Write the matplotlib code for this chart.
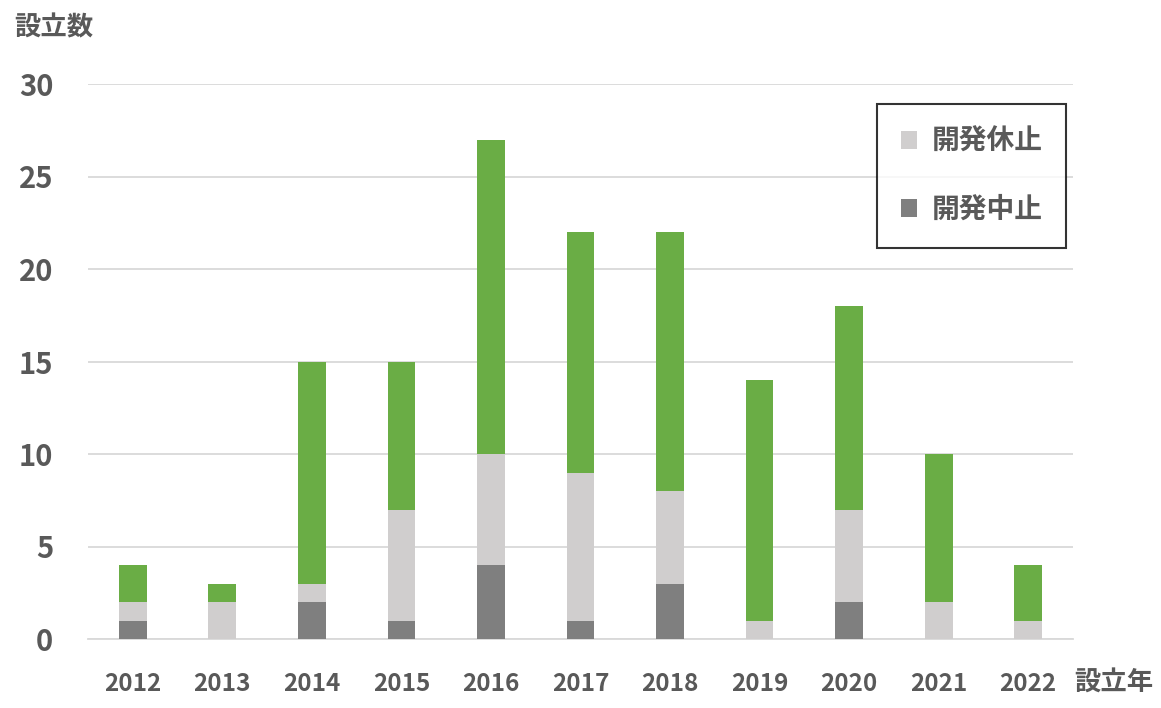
import matplotlib
matplotlib.use("Agg")
import matplotlib.pyplot as plt
import numpy as np

plt.rcParams['font.family'] = ['Noto Sans CJK JP', 'DejaVu Sans']

years = ['2012', '2013', '2014', '2015', '2016', '2017', '2018', '2019', '2020', '2021', '2022']
stopped = [1, 0, 2, 1, 4, 1, 3, 0, 2, 0, 0]      # 開発中止
paused = [1, 2, 1, 6, 6, 8, 5, 1, 5, 2, 1]       # 開発休止
active = [2, 1, 12, 8, 17, 13, 14, 13, 11, 8, 3]  # green (no legend)

c_dark = '#7f7f7f'
c_light = '#d0cece'
c_green = '#6aad45'
tc = '#595959'
fw = 'bold'

fig = plt.figure(figsize=(11.61, 7.08), dpi=100)
ax = fig.add_axes([88/1161, 1-639/708, (1073-88)/1161, (639-84)/708])

x = np.arange(len(years))
w = 0.31
b1 = ax.bar(x, stopped, w, color=c_dark, label='開発中止', zorder=3)
b2 = ax.bar(x, paused, w, bottom=stopped, color=c_light, label='開発休止', zorder=3)
bottom2 = np.array(stopped) + np.array(paused)
ax.bar(x, active, w, bottom=bottom2, color=c_green, zorder=3)

ax.set_xlim(-0.5, len(years) - 0.5)
ax.set_ylim(0, 30)
ax.set_yticks(range(0, 31, 5))
ax.yaxis.grid(True, color='#d9d9d9', linewidth=1.3, zorder=0)
ax.set_axisbelow(True)
for s in ['top', 'right', 'left']:
    ax.spines[s].set_visible(False)
ax.spines['bottom'].set_color('#d9d9d9')
ax.spines['bottom'].set_linewidth(1.3)
ax.tick_params(axis='both', length=0)
ax.set_xticks(x)
ax.set_xticklabels(years, fontsize=17.5, color=tc, fontweight=fw)
ax.tick_params(axis='x', pad=24)
ax.tick_params(axis='y', pad=25, labelsize=21, labelcolor=tc)
for t in ax.get_yticklabels():
    t.set_fontweight(fw)

fig.text(14/1161, 1-28/708, '設立数', fontsize=19, color=tc, fontweight=fw, va='center', ha='left')
fig.text(1074/1161, 1-683/708, '設立年', fontsize=19, color=tc, fontweight=fw, va='center', ha='left')

leg = ax.legend(handles=[b2, b1], labels=['開発休止', '開発中止'],
                loc='upper right', bbox_to_anchor=(1066/1161, 1-104/708),
                bbox_transform=fig.transFigure, fontsize=20, frameon=True,
                fancybox=False, edgecolor='black', labelspacing=1.45,
                handlelength=0.6, handleheight=0.6, handletextpad=0.5,
                borderpad=0.85, borderaxespad=0)
leg.get_frame().set_linewidth(1.5)
for t in leg.get_texts():
    t.set_color(tc)
    t.set_fontweight(fw)

fig.savefig('out.png', dpi=100)
